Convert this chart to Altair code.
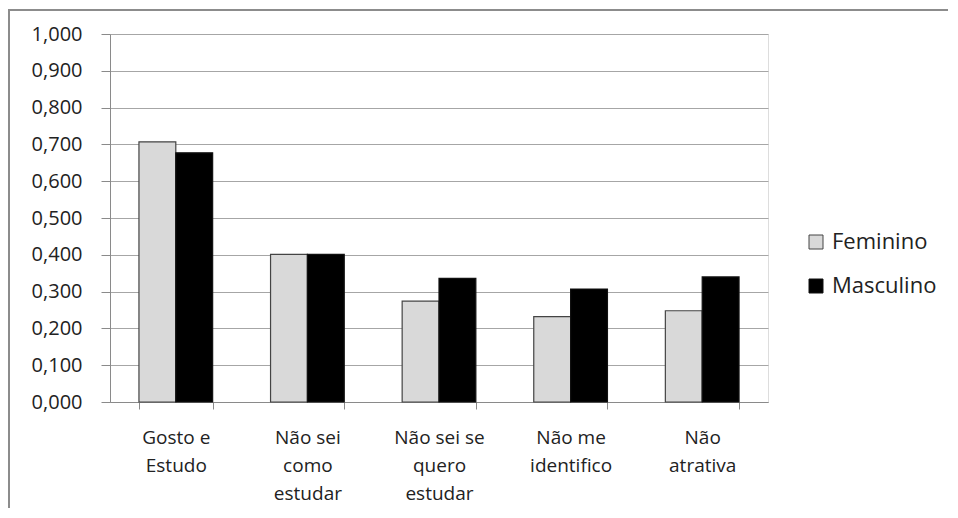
import altair as alt
import pandas as pd

categories = ["Gosto e|Estudo", "Não sei|como|estudar", "Não sei se|quero|estudar",
              "Não me|identifico", "Não|atrativa"]
series = ["Feminino", "Masculino"]
feminino = [0.707, 0.401, 0.274, 0.232, 0.248]
masculino = [0.677, 0.401, 0.336, 0.307, 0.340]
y_ticks = [0.0, 0.1, 0.2, 0.3, 0.4, 0.5, 0.6, 0.7, 0.8, 0.9, 1.0]

rows = []
for c, f, m in zip(categories, feminino, masculino):
    rows.append({"cat": c, "serie": "Feminino", "valor": f})
    rows.append({"cat": c, "serie": "Masculino", "valor": m})
df = pd.DataFrame(rows)

FONT = "Open Sans"

bars = alt.Chart(df).mark_bar(strokeWidth=1.2).encode(
    x=alt.X("cat:N", sort=categories, title=None,
            scale=alt.Scale(paddingInner=0.44, paddingOuter=0.22),
            axis=alt.Axis(labelAngle=0, labelExpr="split(datum.label, '|')",
                          tickBand="extent", tickSize=7, tickColor="#8a8a8a",
                          domainColor="#8a8a8a", labelPadding=19,
                          labelFontSize=19, labelLineHeight=28, labelFont=FONT,
                          labelColor="#222222", labelBaseline="top")),
    xOffset=alt.XOffset("serie:N", sort=series),
    y=alt.Y("valor:Q", title=None,
            scale=alt.Scale(domain=[0, 1], nice=False),
            axis=alt.Axis(values=y_ticks, tickSize=9, labelPadding=19,
                          labelExpr="replace(format(datum.value, '.3f'), '.', ',')",
                          labelFontSize=20, labelFont=FONT, labelColor="#222222",
                          tickColor="#8a8a8a", domainColor="#8a8a8a",
                          gridColor="#a6a6a6", gridWidth=1.2)),
    color=alt.Color("serie:N", sort=series,
                    scale=alt.Scale(domain=series, range=["#d9d9d9", "#000000"]),
                    legend=alt.Legend(title=None, orient="none", legendX=695, legendY=197,
                                      symbolType="square", symbolSize=196,
                                      symbolStrokeColor="#333333", symbolStrokeWidth=1,
                                      labelFontSize=22, labelFont=FONT, labelColor="#222222",
                                      rowPadding=22, labelOffset=5)),
    stroke=alt.Stroke("serie:N", sort=series,
                      scale=alt.Scale(domain=series, range=["#444444", "#111111"]),
                      legend=None),
)

frame_df = pd.DataFrame({"k": [0]})
left_border = alt.Chart(frame_df).mark_rule(color="#8c8c8c", strokeWidth=2).encode(
    x=alt.value(-101), y=alt.value(-25), y2=alt.value(474))
top_border = alt.Chart(frame_df).mark_rule(color="#8c8c8c", strokeWidth=2).encode(
    x=alt.value(-101), x2=alt.value(838), y=alt.value(-24))

chart = alt.layer(bars, left_border, top_border).properties(
    width=658, height=368,
    padding={"left": 0, "top": 0, "right": 0, "bottom": 0},
).configure_view(stroke=None).configure(background="white")

chart.save("out.html", embed_options={"renderer": "svg", "actions": False})
